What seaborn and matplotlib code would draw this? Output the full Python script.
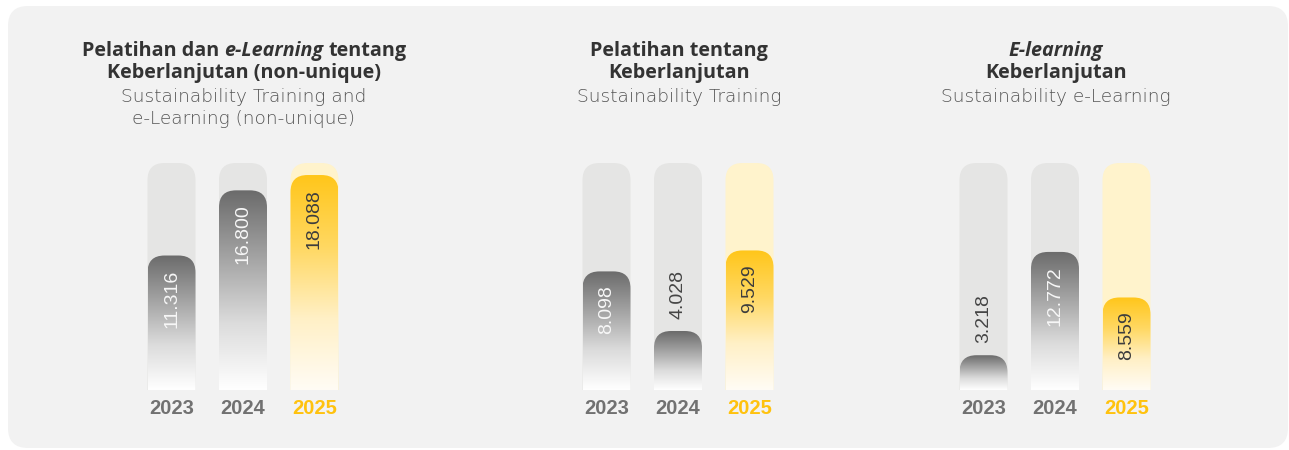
import numpy as np
import pandas as pd
import matplotlib
matplotlib.use("Agg")
import matplotlib.pyplot as plt
import seaborn as sns
from matplotlib.patches import FancyBboxPatch
from matplotlib.colors import LinearSegmentedColormap

# ---------------- data ----------------
years = ["2023", "2024", "2025"]
training_elearning = [11316, 16800, 18088]
training = [8098, 4028, 9529]
elearning = [3218, 12772, 8559]

title_lines = [
    [[("Pelatihan dan", "normal"), ("e-Learning", "italic"), ("tentang", "normal")],
     [("Keberlanjutan (non-unique)", "normal")]],
    [[("Pelatihan tentang", "normal")], [("Keberlanjutan", "normal")]],
    [[("E-learning", "italic")], [("Keberlanjutan", "normal")]],
]
subtitle_lines = [
    ["Sustainability Training and", "e-Learning (non-unique)"],
    ["Sustainability Training"],
    ["Sustainability e-Learning"],
]
panels = [training_elearning, training, elearning]

# ---------------- style ----------------
sns.set_theme(style="white")
plt.rcParams['font.family'] = ['Liberation Sans', 'DejaVu Sans']
TITLE_FONT = ['Open Sans', 'DejaVu Sans']
SUB_FONT = ['DejaVu Sans']

W, H = 1289, 450
ymaxes = [19100, 15500, 21000]
centers = [243, 678, 1055]
slot = 71.5
bar_w = 48 / 71.5
top_px, base_px = 163, 390
radius_px = 17

gray_cmap = LinearSegmentedColormap.from_list("g", ["#ffffff", "#dcdcdc", "#a3a3a3", "#6b6b6b"])
yel_cmap = LinearSegmentedColormap.from_list("y", ["#fffcf5", "#fff0c6", "#ffd862", "#ffc61a"])
track_cols = ["#e5e5e4", "#e5e5e4", "#fff3cc"]
year_cols = ["#717171", "#717171", "#ffc20e"]

fig = plt.figure(figsize=(W / 100, H / 100), dpi=100)
fig.patch.set_facecolor("white")
ax_bg = fig.add_axes([0, 0, 1, 1], zorder=0)
ax_bg.set_xlim(0, W)
ax_bg.set_ylim(H, 0)
ax_bg.axis("off")
ax_bg.add_patch(FancyBboxPatch((8, 6), W - 9, H - 8,
                               boxstyle="round,pad=0,rounding_size=20",
                               fc="#f2f2f2", ec="none"))

renderer = fig.canvas.get_renderer()


def text_width(s, **kw):
    t = ax_bg.text(0, 0, s, **kw)
    w = t.get_window_extent(renderer).width
    t.remove()
    return w


def rich_line(xc, y, pieces, size, color):
    kw = dict(fontsize=size, fontweight="bold", family=TITLE_FONT, color=color)
    gap = text_width("n n", **kw) - text_width("nn", **kw)
    texts, widths = [], []
    for s, style in pieces:
        t = ax_bg.text(0, y, s, fontstyle=style, va="center", ha="left", **kw)
        texts.append(t)
        widths.append(t.get_window_extent(renderer).width)
    total = sum(widths) + gap * (len(pieces) - 1)
    x = xc - total / 2
    for t, w in zip(texts, widths):
        t.set_x(x)
        x += w + gap


gradient = np.linspace(0, 1, 256).reshape(-1, 1)

for p, vals in enumerate(panels):
    c = centers[p]
    ymax = ymaxes[p]
    # titles
    for li, pieces in enumerate(title_lines[p]):
        rich_line(c + 1, 51 + 22 * li, pieces, 14.2, "#333333")
    y0 = 51 + 22 * len(title_lines[p]) + 2
    for li, s in enumerate(subtitle_lines[p]):
        ax_bg.text(c + 1, y0 + 21.5 * li, s, fontsize=13.3, family=SUB_FONT,
                   fontweight="light", color="#555555", ha="center", va="center")

    ax = fig.add_axes([(c - 1.5 * slot) / W, (H - base_px) / H,
                       3 * slot / W, (base_px - top_px) / H], zorder=1)
    df = pd.DataFrame({"year": years, "value": vals})
    sns.barplot(data=df, x="year", y="value", ax=ax, width=bar_w,
                color="#6b6b6b", saturation=1, errorbar=None)
    bars = list(ax.patches)
    ax.set_xlim(-0.5, 2.5)
    ax.set_ylim(0, ymax)
    ax.axis("off")
    ux = 3 / (3 * slot)
    uy = ymax / (base_px - top_px)
    style = f"round,pad=0,rounding_size={radius_px * ux}"
    for i, b in enumerate(bars):
        b.set_visible(False)
        x0, w, h = b.get_x(), b.get_width(), b.get_height()
        xc = x0 + w / 2
        track = FancyBboxPatch((x0, -0.1 * ymax), w, 1.1 * ymax, boxstyle=style,
                               mutation_aspect=uy / ux, fc=track_cols[i], ec="none", zorder=1)
        ax.add_patch(track)
        shape = FancyBboxPatch((x0, -0.1 * ymax), w, h + 0.1 * ymax, boxstyle=style,
                               mutation_aspect=uy / ux, fc="none", ec="none", zorder=1)
        ax.add_patch(shape)
        cmap = yel_cmap if i == 2 else gray_cmap
        im = ax.imshow(gradient, cmap=cmap, extent=[x0, x0 + w, 0, h], origin="lower",
                       aspect="auto", interpolation="bicubic", zorder=2, vmin=0, vmax=1)
        im.set_clip_path(shape)

        label = f"{vals[i]:,}".replace(",", ".")
        px_h = h / uy
        if px_h > 80:
            col = "#3d3d3d" if i == 2 else "#f7f7f7"
            ax.annotate(label, xy=(xc, h), xytext=(0, -14), textcoords="offset pixels",
                        rotation=90, ha="center", va="top", color=col, fontsize=14,
                        zorder=5, annotation_clip=False)
        else:
            ax.annotate(label, xy=(xc, h), xytext=(0, 12), textcoords="offset pixels",
                        rotation=90, ha="center", va="bottom", color="#454545",
                        fontsize=14, zorder=5, annotation_clip=False)
        ax.annotate(years[i], xy=(xc, 0), xytext=(0, -18), textcoords="offset pixels",
                    ha="center", va="center", fontweight="bold", fontsize=14.5,
                    color=year_cols[i], annotation_clip=False)
    ax.set_xlim(-0.5, 2.5)
    ax.set_ylim(0, ymax)

fig.savefig("out.png", dpi=100, facecolor="white")
